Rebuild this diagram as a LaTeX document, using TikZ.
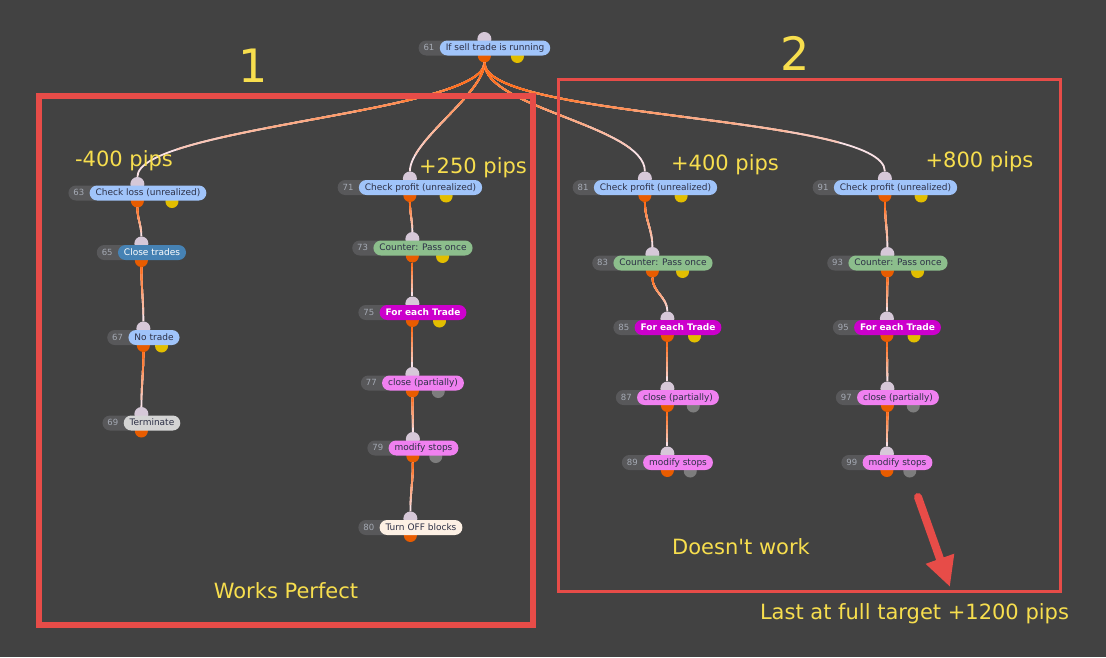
\documentclass[tikz,border=0pt]{standalone}
\usepackage{fontspec}
\setmainfont{DejaVu Sans}
\usepackage{xcolor}
\usepackage{tikz}
\usetikzlibrary{arrows.meta,calc,positioning}
\definecolor{canvasgray}{RGB}{66,66,66}
\definecolor{numgray}{RGB}{88,88,90}
\definecolor{numtext}{RGB}{165,170,180}
\definecolor{labeldark}{RGB}{45,48,70}
\definecolor{noteyellow}{RGB}{247,222,78}
\definecolor{markred}{RGB}{231,76,72}
\definecolor{wireorange}{RGB}{255,105,20}
\definecolor{wirepale}{RGB}{250,226,230}
\definecolor{condblue}{RGB}{160,196,250}
\definecolor{actionblue}{RGB}{70,130,180}
\definecolor{countgreen}{RGB}{140,190,140}
\definecolor{loopmagenta}{RGB}{204,0,204}
\definecolor{tradepink}{RGB}{240,128,240}
\definecolor{termgray}{RGB}{212,212,212}
\definecolor{offlinen}{RGB}{253,240,228}
\definecolor{inlilac}{RGB}{214,200,216}
\definecolor{outorange}{RGB}{232,92,0}
\definecolor{auxyellow}{RGB}{226,190,0}
\definecolor{auxgray}{RGB}{125,125,125}

\pgfdeclarelayer{under}
\pgfsetlayers{under,main}

% block: number, centre, style, text, colour of the second output port
\newcommand\block[5]{%
  \node[#3] (b#1) at ($(#2)+(10,0)$) {#4};
  \begin{pgfonlayer}{under}
    \node[numpill, left=-14pt of b#1] (n#1) {#1\rule{14pt}{0pt}};
    \node[inport] (i#1) at ($(n#1.west)!.5!(b#1.east)+(0,-9)$) {};
    \node[outport] (o#1) at ($(n#1.west)!.5!(b#1.east)+(0,8)$) {};
    \node[auxport, fill=#5] (a#1) at ($(n#1.west)!.75!(b#1.east)+(0,8.5)$) {};
  \end{pgfonlayer}}

% wire: orange at the parent, pale at the child
\newcommand\wire[3]{%
  \draw[wire, draw=wirepale] (o#1.south) to[#3] (i#2.north);
  \path let \p1=($(i#2.north)-(o#1.south)$), \n1={veclen(\x1,\y1)} in
    \pgfextra{\xdef\wirelen{\n1}};
  \foreach \k in {7,...,1} {
    \pgfmathtruncatemacro\mix{107-12*\k}
    \begin{scope}
      \clip (o#1.south) circle ({\k/8*\wirelen});
      \draw[wire, draw=wireorange!\mix!wirepale] (o#1.south) to[#3] (i#2.north);
    \end{scope}}}

\begin{document}
\begin{tikzpicture}[
    x=1pt, y=-1pt,
    pill/.style={rounded corners=7.5pt, minimum height=15pt, inner xsep=6pt, inner ysep=0pt,
      text height=6.8pt, text depth=1.8pt, font=\fontsize{9}{10}\selectfont},
    numpill/.style={pill, fill=numgray, text=numtext, inner xsep=5pt, font=\fontsize{8.5}{10}\selectfont},
    cond/.style={pill, fill=condblue, text=labeldark},
    action/.style={pill, fill=actionblue, text=white},
    counter/.style={pill, fill=countgreen, text=labeldark},
    loop/.style={pill, fill=loopmagenta, text=white, font=\fontsize{9}{10}\selectfont\bfseries},
    trade/.style={pill, fill=tradepink, text=labeldark},
    term/.style={pill, fill=termgray, text=labeldark},
    off/.style={pill, fill=offlinen, text=labeldark},
    port/.style={circle, inner sep=0pt, minimum size=13pt},
    inport/.style={port, fill=inlilac, minimum size=14pt},
    outport/.style={port, fill=outorange},
    auxport/.style={port},
    wire/.style={line width=1.8pt},
    note/.style={text=noteyellow, anchor=base, font=\fontsize{21}{24}\selectfont},
    bignote/.style={note, font=\fontsize{46}{50}\selectfont}
  ]
  \useasboundingbox (0,0) rectangle (1106,657);
  \begin{pgfonlayer}{under}
    \fill[canvasgray] (0,0) rectangle (1106,657);
  \end{pgfonlayer}

  \block{61}{485,48}{cond}{If sell trade is running}{auxyellow}

  % column 1
  \block{63}{138,193}{cond}{Check loss (unrealized)}{auxyellow}
  \block{65}{142,252.5}{action}{Close trades}{none}
  \block{67}{144,337.5}{cond}{No trade}{auxyellow}
  \block{69}{142,423}{term}{Terminate}{none}

  % column 2
  \block{71}{410.5,187.5}{cond}{Check profit (unrealized)}{auxyellow}
  \block{73}{413,248}{counter}{Counter: Pass once}{auxyellow}
  \block{75}{413,312.5}{loop}{For each Trade}{auxyellow}
  \block{77}{413,383}{trade}{close (partially)}{auxgray}
  \block{79}{413.5,448}{trade}{modify stops}{auxgray}
  \block{80}{411,527.5}{off}{Turn OFF blocks}{none}

  % column 3
  \block{81}{645.5,187.5}{cond}{Check profit (unrealized)}{auxyellow}
  \block{83}{653,263}{counter}{Counter: Pass once}{auxyellow}
  \block{85}{668,327.5}{loop}{For each Trade}{auxyellow}
  \block{87}{668,397.5}{trade}{close (partially)}{auxgray}
  \block{89}{668,462.5}{trade}{modify stops}{auxgray}

  % column 4
  \block{91}{885.5,187.5}{cond}{Check profit (unrealized)}{auxyellow}
  \block{93}{888,263}{counter}{Counter: Pass once}{auxyellow}
  \block{95}{887.5,327.5}{loop}{For each Trade}{auxyellow}
  \block{97}{888,397.5}{trade}{close (partially)}{auxgray}
  \block{99}{887.5,462.5}{trade}{modify stops}{auxgray}

  \wire{61}{63}{out=-90, in=90, looseness=.35}
  \wire{61}{71}{out=-90, in=90, looseness=.6}
  \wire{61}{81}{out=-90, in=90, looseness=.6}
  \wire{61}{91}{out=-90, in=90, looseness=.35}

  \wire{63}{65}{out=-90, in=90}
  \wire{65}{67}{out=-90, in=90}
  \wire{67}{69}{out=-90, in=90}

  \wire{71}{73}{out=-90, in=90}
  \wire{73}{75}{out=-90, in=90}
  \wire{75}{77}{out=-90, in=90}
  \wire{77}{79}{out=-90, in=90}
  \wire{79}{80}{out=-90, in=90}

  \wire{81}{83}{out=-90, in=90}
  \wire{83}{85}{out=-90, in=90}
  \wire{85}{87}{out=-90, in=90}
  \wire{87}{89}{out=-90, in=90}

  \wire{91}{93}{out=-90, in=90}
  \wire{93}{95}{out=-90, in=90}
  \wire{95}{97}{out=-90, in=90}
  \wire{97}{99}{out=-90, in=90}

  % annotations
  \draw[markred, line width=6pt] (38.5,95.5) rectangle (532.5,624.5);
  \draw[markred, line width=3pt] (558.5,79.5) rectangle (1060.5,591.5);

  \node[bignote] (one) at (253,82) {1};
  \node[bignote] (two) at (795,70) {2};
  \node[note] (loss) at (124,166) {-400 pips};
  \node[note] (p250) at (473,173) {+250 pips};
  \node[note] (p400) at (725,170) {+400 pips};
  \node[note] (p800) at (979.5,167) {+800 pips};
  \node[note] (works) at (286,598) {Works Perfect};
  \node[note] (fails) at (741,554) {Doesn\textquotesingle t work};
  \node[note] (last) at (914.5,619) {Last at full target +1200 pips};

  \coordinate (tail) at (918,497);
  \coordinate (tip) at (950,587);
  \draw[markred, line width=8pt, line cap=round, -{Triangle[length=30pt, width=28pt]}] (tail) -- (tip);
\end{tikzpicture}
\end{document}
